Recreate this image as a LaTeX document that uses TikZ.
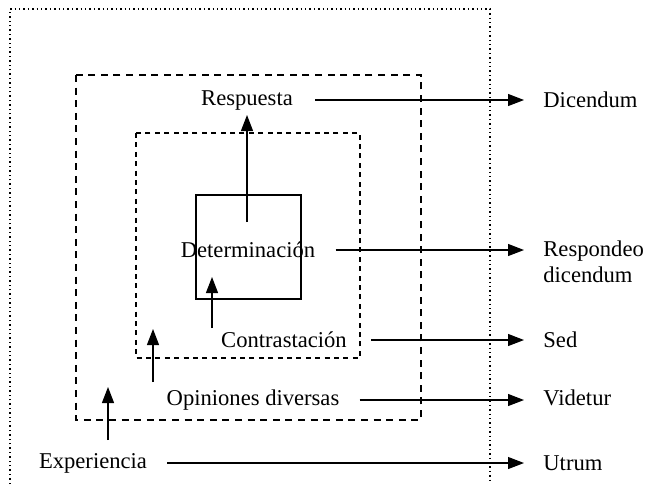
\documentclass[tikz,border=0pt]{standalone}
\usepackage{fontspec}
\setmainfont{Liberation Serif}
\usetikzlibrary{arrows.meta}
\begin{document}
\begin{tikzpicture}[x=0.5pt,y=-0.5pt,
  lbl/.style={inner sep=0pt,font=\fontsize{11.3}{11.3}\selectfont},
  rlbl/.style={lbl,anchor=west,align=left},
  arr/.style={line width=0.55pt,-{Triangle[length=8pt,width=6pt]}},
  outerdash/.style={line width=0.8pt,dash pattern=on 3.5pt off 2.8pt},
  innerdash/.style={line width=0.8pt,dash pattern=on 2.5pt off 2.2pt},
  dotline/.style={line width=0.7pt,dash pattern=on 0.7pt off 1.5pt},
  solidbox/.style={line width=1pt}]
\useasboundingbox (0,0) rectangle (646,484);
% frames
\draw[dotline] (10,484) -- (10,9) -- (490,9) -- (490,484);
\draw[outerdash] (76,75) rectangle (421,420);
\draw[innerdash] (136,133) rectangle (360,358);
\draw[solidbox] (196,195) rectangle (301,299);
% left labels
\node[lbl] (resp) at (247,100) {Respuesta};
\node[lbl] (det) at (248,250) {Determinación};
\node[lbl] (con) at (284,340) {Contrastación};
\node[lbl] (opi) at (253,400) {Opiniones diversas};
\node[lbl] (exp) at (93,463) {Experiencia};
% right labels
\node[rlbl] (dic) at (543,100) {Dicendum};
\node[rlbl,anchor=north west] (rdic) at (543,240) {Respondeo\\[2pt]dicendum};
\node[rlbl] (sed) at (543,340) {Sed};
\node[rlbl] (vid) at (543,398) {Videtur};
\node[rlbl] (utr) at (543,463) {Utrum};
% horizontal arrows
\coordinate (t1) at (524,100);
\coordinate (t2) at (524,250);
\coordinate (t3) at (524,340);
\coordinate (t4) at (524,400);
\coordinate (t5) at (524,463);
\draw[arr] ([xshift=11pt]resp.east |- t1) -- (t1);
\draw[arr] ([xshift=10pt]det.east |- t2) -- (t2);
\draw[arr] ([xshift=12pt]con.east |- t3) -- (t3);
\draw[arr] ([xshift=10pt]opi.east |- t4) -- (t4);
\draw[arr] ([xshift=10pt]exp.east |- t5) -- (t5);
% vertical arrows
\coordinate (v1s) at (247,222); \coordinate (v1e) at (247,115);
\coordinate (v2s) at (212,328); \coordinate (v2e) at (212,277);
\coordinate (v3s) at (153,382); \coordinate (v3e) at (153,329);
\coordinate (v4s) at (108,440); \coordinate (v4e) at (108,387);
\draw[arr] (v1s) -- (v1e);
\draw[arr] (v2s) -- (v2e);
\draw[arr] (v3s) -- (v3e);
\draw[arr] (v4s) -- (v4e);
\end{tikzpicture}
\end{document}
